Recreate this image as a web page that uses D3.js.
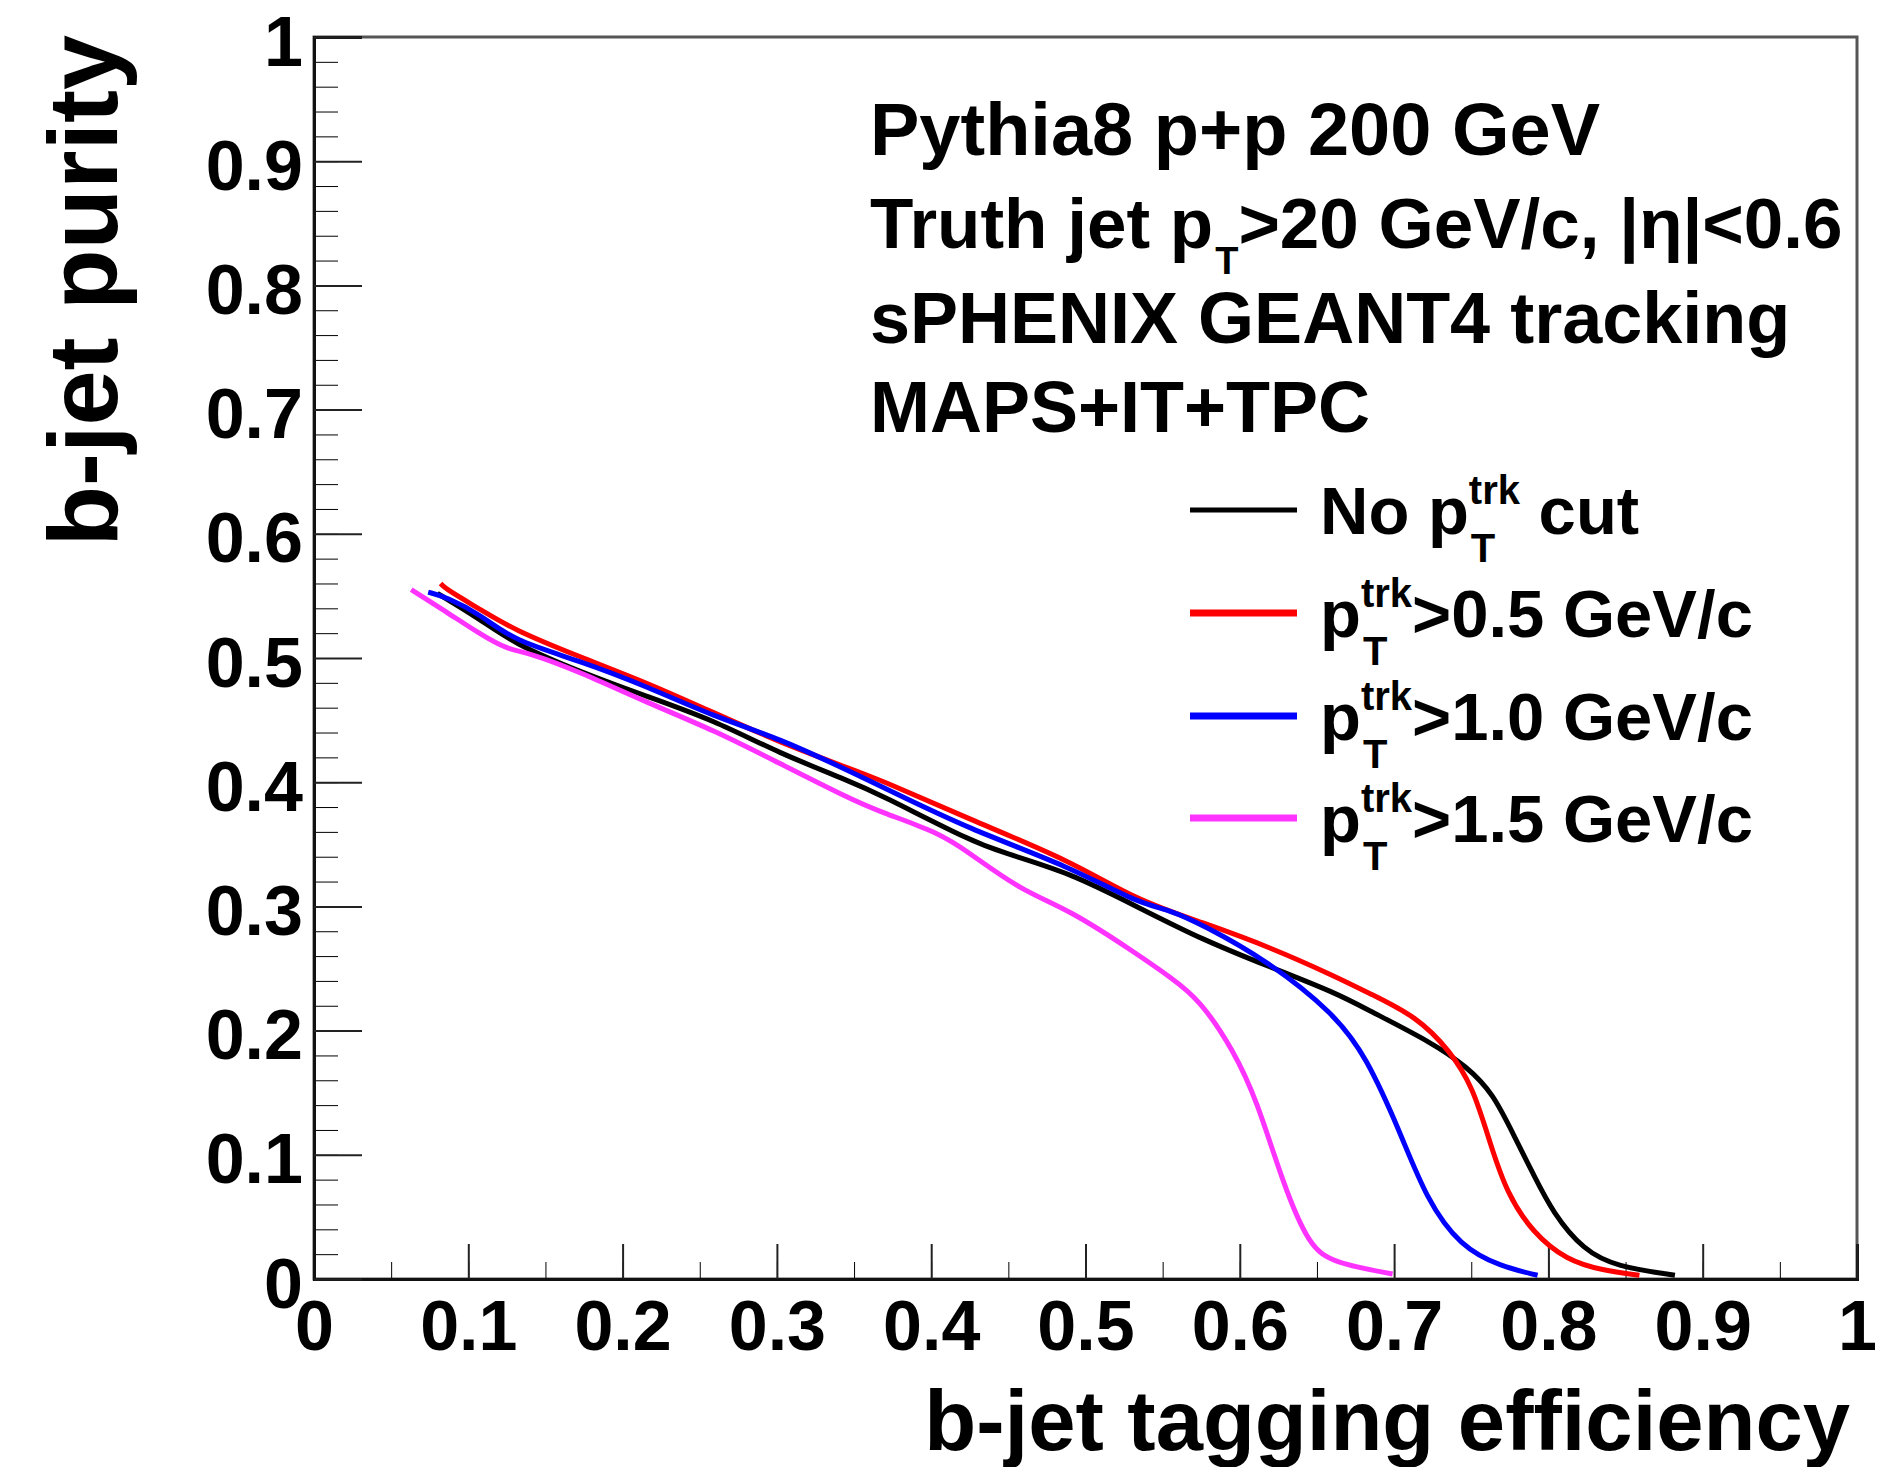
<!DOCTYPE html>
<html>
<head>
<meta charset="utf-8">
<script src="https://cdn.jsdelivr.net/npm/d3@7"></script>
<style>
  body { margin: 0; background: #fff; }
  text { font-family: "Liberation Sans", Arial, Helvetica, sans-serif; font-weight: bold; white-space: pre; }
</style>
</head>
<body>
<div id="paper"></div>
<script>
// b-jet purity vs b-jet tagging efficiency

// [efficiency, purity] for each track pT cut
const noCut = [[0.080,0.552],[0.108,0.531],[0.129,0.512],[0.172,0.489],[0.216,0.469],[0.259,0.450],
  [0.302,0.423],[0.345,0.402],[0.367,0.390],[0.425,0.353],[0.447,0.343],[0.490,0.327],[0.533,0.300],
  [0.576,0.273],[0.620,0.251],[0.663,0.230],[0.684,0.216],[0.725,0.190],[0.747,0.171],[0.764,0.150],
  [0.779,0.112],[0.790,0.085],[0.803,0.053],[0.823,0.023],[0.844,0.010],[0.882,0.003]]
const cut05 = [[0.082,0.560],[0.086,0.555],[0.108,0.539],[0.129,0.523],[0.172,0.501],[0.216,0.480],
  [0.259,0.456],[0.302,0.432],[0.345,0.412],[0.367,0.402],[0.425,0.370],[0.490,0.337],[0.533,0.305],
  [0.576,0.287],[0.620,0.267],[0.663,0.243],[0.684,0.230],[0.715,0.211],[0.736,0.184],[0.751,0.155],
  [0.762,0.110],[0.773,0.069],[0.790,0.037],[0.812,0.015],[0.835,0.007],[0.859,0.003]]
const cut10 = [[0.074,0.553],[0.086,0.549],[0.108,0.535],[0.129,0.514],[0.172,0.498],[0.216,0.477],
  [0.259,0.453],[0.302,0.435],[0.345,0.410],[0.367,0.397],[0.425,0.362],[0.490,0.332],[0.533,0.303],
  [0.555,0.297],[0.576,0.285],[0.617,0.257],[0.661,0.214],[0.682,0.179],[0.704,0.118],[0.721,0.064],
  [0.743,0.026],[0.769,0.010],[0.793,0.003]]
const cut15 = [[0.063,0.555],[0.086,0.537],[0.108,0.519],[0.125,0.507],[0.140,0.504],[0.172,0.489],
  [0.216,0.464],[0.259,0.442],[0.302,0.415],[0.345,0.388],[0.367,0.376],[0.404,0.360],[0.425,0.343],
  [0.458,0.313],[0.490,0.297],[0.533,0.262],[0.555,0.243],[0.574,0.225],[0.596,0.184],[0.611,0.144],
  [0.628,0.077],[0.645,0.026],[0.661,0.013],[0.699,0.004]]

const xTicks = [0, 0.1, 0.2, 0.3, 0.4, 0.5, 0.6, 0.7, 0.8, 0.9, 1]
const xTickLabels = ['0', '0.1', '0.2', '0.3', '0.4', '0.5', '0.6', '0.7', '0.8', '0.9', '1']
const yTicks = [0, 0.1, 0.2, 0.3, 0.4, 0.5, 0.6, 0.7, 0.8, 0.9, 1]
const yTickLabels = ['0', '0.1', '0.2', '0.3', '0.4', '0.5', '0.6', '0.7', '0.8', '0.9', '1']

const xTitle = 'b-jet tagging efficiency'
const yTitle = 'b-jet purity'

// text pieces: n = normal, sup / sub = scripts after the previous piece
const infoLines = [
  [['Pythia8 p+p 200 GeV', 'n']],
  [['Truth jet p', 'n'], ['T', 'sub'], ['>20 GeV/c, |η|<0.6', 'n']],
  [['sPHENIX GEANT4 tracking', 'n']],
  [['MAPS+IT+TPC', 'n']]
]
const legendLabels = [
  [['No p', 'n'], ['trk', 'sup'], ['T', 'sub'], [' cut', 'n']],
  [['p', 'n'], ['trk', 'sup'], ['T', 'sub'], ['>0.5 GeV/c', 'n']],
  [['p', 'n'], ['trk', 'sup'], ['T', 'sub'], ['>1.0 GeV/c', 'n']],
  [['p', 'n'], ['trk', 'sup'], ['T', 'sub'], ['>1.5 GeV/c', 'n']]
]

const allSeries = [noCut, cut05, cut10, cut15]
const seriesColors = ['#000000', '#ff0000', '#0000ff', '#ff33ff']

// svg

const W = 1885, H = 1467
const svg = d3.select('#paper')
  .append('svg')
  .attr('id', 'canvas')
  .attr('width', W)
  .attr('height', H)

const x = d3.scaleLinear().domain([0, 1]).range([314, 1857])
const y = d3.scaleLinear().domain([0, 1]).range([1279, 37])

// frame

svg.append('rect')
  .attr('x', x(0)).attr('y', y(1))
  .attr('width', x(1) - x(0)).attr('height', y(0) - y(1))
  .attr('fill', 'none')
  .attr('stroke', '#555')
  .attr('stroke-width', 3)

// minor ticks (inward)

svg.append('g')
  .attr('transform', `translate(0,${y(0)})`)
  .call(d3.axisBottom(x).ticks(20).tickSize(-17).tickFormat(''))
  .call(g => g.select('.domain').remove())

svg.append('g')
  .attr('transform', `translate(${x(0)},0)`)
  .call(d3.axisLeft(y).ticks(50).tickSize(-24).tickFormat(''))
  .call(g => g.select('.domain').remove())

// major ticks with labels

const xAxis = svg.append('g')
  .attr('transform', `translate(0,${y(0)})`)
  .call(d3.axisBottom(x).tickValues(xTicks).tickSize(-35).tickPadding(21)
    .tickFormat((d, i) => xTickLabels[i]))

const yAxis = svg.append('g')
  .attr('transform', `translate(${x(0)},0)`)
  .call(d3.axisLeft(y).tickValues(yTicks).tickSize(-48).tickPadding(11)
    .tickFormat((d, i) => yTickLabels[i]))

Array(xAxis, yAxis).forEach(g => {
  g.attr('font-size', null).attr('font-family', null)
  g.select('.domain').attr('stroke', '#111').attr('stroke-width', 3)
  g.selectAll('.tick line').attr('stroke', '#222').attr('stroke-width', 2)
  g.selectAll('.tick text').style('font-size', '70px').attr('fill', '#000')
})
yAxis.selectAll('.tick text').attr('dy', '0.4em')

// curves

const line = d3.line()
  .x(d => x(d[0]))
  .y(d => y(d[1]))
  .curve(d3.curveBasis)

allSeries.forEach((data, i) => {
  svg.append('path')
    .datum(data)
    .attr('d', line)
    .attr('fill', 'none')
    .attr('stroke', seriesColors[i])
    .attr('stroke-width', 5)
    .attr('stroke-linejoin', 'round')
})

// text with sub / superscripts

function richText(g, x0, y0, parts, size, scriptSize, subOff, supOff) {
  let base = x0, scriptW = 0
  parts.forEach(([str, kind]) => {
    if (kind === 'n') {
      const cx = base + scriptW
      scriptW = 0
      const t = g.append('text')
        .attr('x', cx).attr('y', y0)
        .style('font-size', size + 'px')
        .text(str)
      base = cx + t.node().getComputedTextLength()
    } else {
      const dx = kind === 'sub' ? 2 : 0
      const t = g.append('text')
        .attr('x', base + dx)
        .attr('y', kind === 'sup' ? y0 - supOff : y0 + subOff)
        .style('font-size', scriptSize + 'px')
        .text(str)
      scriptW = Math.max(scriptW, t.node().getComputedTextLength() + dx)
    }
  })
}

const infoBase = [155, 248, 343, 432]
const infoSize = [74, 71, 72, 72]
infoLines.forEach((parts, i) => richText(svg.append('g'), 870, infoBase[i], parts, infoSize[i], 38, 26, 0))

// legend

const legendY = [510, 613, 716, 818]
legendLabels.forEach((parts, i) => {
  svg.append('line')
    .attr('x1', 1190).attr('x2', 1297)
    .attr('y1', legendY[i]).attr('y2', legendY[i])
    .attr('stroke', seriesColors[i])
    .attr('stroke-width', i == 0 ? 5 : 7)
  richText(svg.append('g'), 1320, legendY[i] + 24, parts, 67, 40, 28, 30)
})

// axis titles

svg.append('text')
  .attr('x', 1850).attr('y', 1450)
  .attr('text-anchor', 'end')
  .style('font-size', '85px')
  .text(xTitle)

svg.append('text')
  .attr('transform', 'translate(117,35) rotate(-90)')
  .attr('text-anchor', 'end')
  .style('font-size', '99px')
  .text(yTitle)
</script>
</body>
</html>
